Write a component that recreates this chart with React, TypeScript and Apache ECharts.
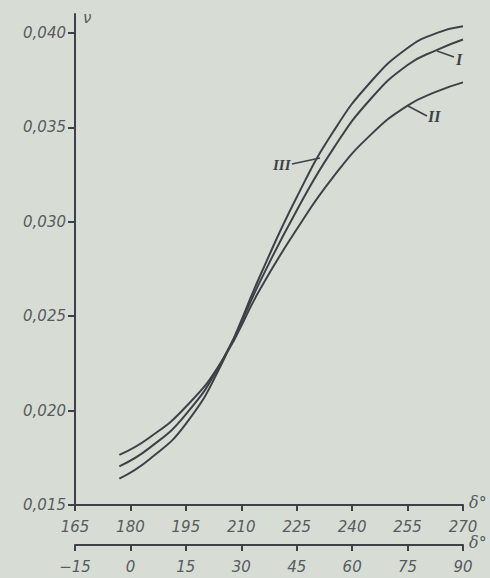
import React, { useEffect, useRef } from "react";
import * as echarts from "echarts";

// δ° (upper scale) at which the curves were read
const angles = [177, 185, 195, 205, 215, 225, 235, 245, 255, 263, 270];
// ν values
const curveI = [0.01705, 0.018, 0.0198, 0.0227, 0.0268, 0.0306, 0.0339, 0.0365, 0.0383, 0.0391, 0.03965];
const curveII = [0.01765, 0.01855, 0.0202, 0.0227, 0.0264, 0.0296, 0.0324, 0.0346, 0.03615, 0.0369, 0.03738];
const curveIII = [0.0164, 0.0174, 0.0193, 0.0226, 0.0271, 0.0313, 0.0348, 0.0374, 0.0392, 0.04, 0.04035];

const yTicks = [0.015, 0.02, 0.025, 0.03, 0.035, 0.04];
const topTicks = [165, 180, 195, 210, 225, 240, 255, 270];
const bottomTicks = [-15, 0, 15, 30, 45, 60, 75, 90];

const ink = "#3d4248";
const labelInk = "#575b60";
const paper = "#d7ddd5";

export default function App() {
  const ref = useRef<HTMLDivElement>(null);
  useEffect(() => {
    if (!ref.current) return;
    const chart = echarts.init(ref.current, undefined, { renderer: "svg" });
    const pair = (ys: number[]) => angles.map((a, i) => [a, ys[i]]);
    const labelFont = {
      fontFamily: "DejaVu Sans",
      fontStyle: "italic" as const,
      fontSize: 15,
      color: labelInk,
    };
    const lineSeries = (name: string, ys: number[]) => ({
      name,
      type: "line",
      xAxisIndex: 0,
      yAxisIndex: 0,
      data: pair(ys),
      smooth: 0.5,
      showSymbol: false,
      symbol: "none",
      lineStyle: { color: ink, width: 2 },
    });
    chart.setOption({
      animation: false,
      backgroundColor: paper,
      grid: { left: 75, right: 27, top: 14, bottom: 73, containLabel: false },
      xAxis: [
        {
          type: "value",
          position: "bottom",
          min: topTicks[0],
          max: topTicks[topTicks.length - 1],
          interval: 15,
          axisLine: { show: true, lineStyle: { color: ink, width: 2 } },
          axisTick: { show: true, inside: false, length: 6, lineStyle: { color: ink, width: 2 } },
          axisLabel: { ...labelFont, margin: 14 },
          splitLine: { show: false },
        },
        {
          type: "value",
          position: "bottom",
          offset: 40,
          min: bottomTicks[0],
          max: bottomTicks[bottomTicks.length - 1],
          interval: 15,
          axisLine: { show: true, onZero: false, lineStyle: { color: ink, width: 2 } },
          axisTick: { show: true, inside: false, length: 6, lineStyle: { color: ink, width: 2 } },
          axisLabel: {
            ...labelFont,
            margin: 14,
            formatter: (v: number) => (v < 0 ? "\u2212" + Math.abs(v) : String(v)),
          },
          splitLine: { show: false },
        },
      ],
      yAxis: {
        type: "value",
        min: yTicks[0],
        max: 0.041,
        axisLine: { show: true, onZero: false, lineStyle: { color: ink, width: 2 } },
        axisTick: {
          show: true,
          inside: false,
          length: 7,
          customValues: yTicks,
          lineStyle: { color: ink, width: 2 },
        },
        axisLabel: {
          ...labelFont,
          margin: 9,
          customValues: yTicks,
          formatter: (v: number) => v.toFixed(3).replace(".", ","),
        },
        splitLine: { show: false },
      },
      series: [
        lineSeries("I", curveI),
        lineSeries("II", curveII),
        lineSeries("III", curveIII),
      ],
      graphic: [
        {
          type: "text",
          left: 83,
          top: 10,
          style: { text: "ν", fontFamily: "DejaVu Sans", fontStyle: "italic", fontSize: 15, fill: labelInk },
        },
        {
          type: "text",
          left: 469,
          top: 494,
          style: { text: "δ°", fontFamily: "DejaVu Serif", fontStyle: "italic", fontSize: 16, fill: labelInk },
        },
        {
          type: "text",
          left: 469,
          top: 534,
          style: { text: "δ°", fontFamily: "DejaVu Serif", fontStyle: "italic", fontSize: 16, fill: labelInk },
        },
        { type: "line", shape: { x1: 437, y1: 51, x2: 454, y2: 57 }, style: { stroke: ink, lineWidth: 1.5 } },
        { type: "line", shape: { x1: 408, y1: 106, x2: 427, y2: 116 }, style: { stroke: ink, lineWidth: 1.5 } },
        { type: "line", shape: { x1: 292, y1: 164, x2: 320, y2: 158 }, style: { stroke: ink, lineWidth: 1.5 } },
        {
          type: "text",
          left: 456,
          top: 51,
          style: { text: "I", fontFamily: "Liberation Serif", fontStyle: "italic", fontWeight: "bold", fontSize: 16, fill: ink },
        },
        {
          type: "text",
          left: 428,
          top: 108,
          style: { text: "II", fontFamily: "Liberation Serif", fontStyle: "italic", fontWeight: "bold", fontSize: 16, fill: ink },
        },
        {
          type: "text",
          left: 273,
          top: 157,
          style: { text: "III", fontFamily: "Liberation Serif", fontStyle: "italic", fontWeight: "bold", fontSize: 15, fill: ink },
        },
      ],
    });
    return () => chart.dispose();
  }, []);
  return (
    <div
      ref={ref}
      style={{ position: "absolute", left: 0, top: 0, width: 490, height: 578 }}
    />
  );
}
